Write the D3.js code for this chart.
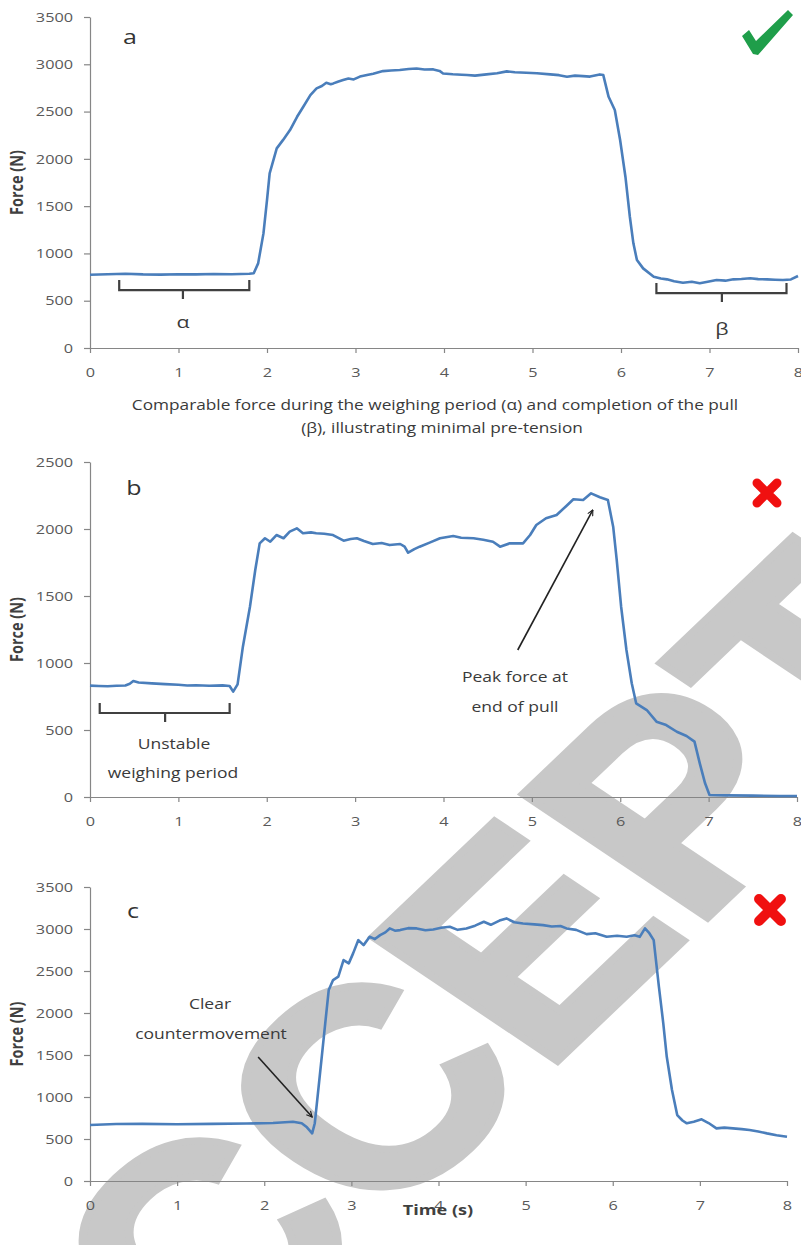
<!DOCTYPE html>
<html>
<head>
<meta charset="utf-8">
<script src="https://cdn.jsdelivr.net/npm/d3@7"></script>
<style>
  body { margin: 0; background: #fff; }
  svg { display: block; }
</style>
</head>
<body>
<div id="chart"></div>
<script>
// ---- data ----
const timeTicks = [0, 1, 2, 3, 4, 5, 6, 7, 8];
const forceTicksA = [0, 500, 1000, 1500, 2000, 2500, 3000, 3500];
const forceTicksB = [0, 500, 1000, 1500, 2000, 2500];
const forceTicksC = [0, 500, 1000, 1500, 2000, 2500, 3000, 3500];

// [time (s), force (N)]
const pullA = [
  [0, 775], [0.2, 780], [0.4, 785], [0.6, 778], [0.8, 776], [1.0, 780], [1.2, 778],
  [1.4, 782], [1.6, 780], [1.8, 785], [1.85, 790], [1.9, 895], [1.96, 1212], [2.0, 1564],
  [2.03, 1846], [2.11, 2111], [2.18, 2198], [2.26, 2304], [2.34, 2445], [2.41, 2551],
  [2.49, 2674], [2.56, 2745], [2.62, 2770], [2.67, 2805], [2.72, 2790], [2.75, 2798],
  [2.8, 2815], [2.86, 2833], [2.92, 2850], [2.98, 2840], [3.05, 2870], [3.13, 2886],
  [3.2, 2900], [3.31, 2928], [3.4, 2935], [3.5, 2939], [3.6, 2950], [3.69, 2956],
  [3.78, 2945], [3.88, 2946], [3.95, 2930], [3.99, 2903], [4.1, 2895], [4.2, 2890],
  [4.26, 2886], [4.35, 2880], [4.48, 2893], [4.6, 2905], [4.71, 2925], [4.8, 2915],
  [4.93, 2910], [5.05, 2905], [5.2, 2893], [5.3, 2885], [5.39, 2868], [5.48, 2880],
  [5.57, 2875], [5.65, 2870], [5.76, 2893], [5.8, 2886], [5.86, 2656], [5.93, 2516],
  [5.99, 2199], [6.05, 1811], [6.1, 1388], [6.14, 1107], [6.18, 930], [6.25, 842],
  [6.37, 754], [6.45, 735], [6.52, 726], [6.6, 705], [6.7, 690], [6.8, 700], [6.89, 684],
  [6.98, 700], [7.08, 719], [7.18, 712], [7.27, 726], [7.36, 730], [7.46, 737],
  [7.55, 728], [7.65, 726], [7.74, 722], [7.83, 719], [7.92, 725], [8.0, 761]
];

const pullB = [
  [0, 831], [0.1, 828], [0.2, 826], [0.3, 830], [0.4, 832], [0.45, 845], [0.49, 866],
  [0.55, 855], [0.7, 848], [0.85, 842], [1.0, 838], [1.1, 832], [1.2, 834], [1.35, 830],
  [1.5, 833], [1.58, 828], [1.62, 786], [1.67, 840], [1.73, 1122], [1.81, 1420],
  [1.87, 1694], [1.92, 1893], [1.98, 1931], [2.04, 1905], [2.11, 1955], [2.19, 1931],
  [2.26, 1980], [2.34, 2005], [2.41, 1968], [2.5, 1975], [2.56, 1968], [2.65, 1965],
  [2.75, 1955], [2.87, 1913], [2.95, 1925], [3.02, 1931], [3.1, 1910], [3.2, 1888],
  [3.3, 1895], [3.39, 1880], [3.51, 1888], [3.56, 1868], [3.6, 1823], [3.67, 1850],
  [3.73, 1868], [3.85, 1900], [3.96, 1931], [4.11, 1948], [4.2, 1935], [4.34, 1931],
  [4.45, 1920], [4.56, 1905], [4.64, 1868], [4.75, 1893], [4.9, 1893], [4.98, 1955],
  [5.05, 2030], [5.16, 2080], [5.28, 2105], [5.39, 2172], [5.47, 2222], [5.58, 2217],
  [5.67, 2266], [5.77, 2237], [5.86, 2217], [5.92, 2017], [5.96, 1769], [6.01, 1420],
  [6.07, 1097], [6.13, 849], [6.18, 699], [6.3, 649], [6.41, 562], [6.52, 537],
  [6.64, 487], [6.75, 455], [6.84, 413], [6.9, 251], [6.96, 102], [7.01, 15],
  [7.2, 12], [7.5, 10], [7.8, 8], [8.0, 8]
];

const pullC = [
  [0, 666], [0.3, 678], [0.6, 680], [1.0, 676], [1.4, 680], [1.8, 684], [2.1, 690],
  [2.33, 706], [2.43, 688], [2.49, 639], [2.55, 567], [2.58, 688], [2.62, 1083],
  [2.66, 1479], [2.7, 1877], [2.74, 2273], [2.79, 2392], [2.85, 2432], [2.91, 2630],
  [2.97, 2591], [3.02, 2710], [3.08, 2868], [3.14, 2808], [3.21, 2907], [3.27, 2880],
  [3.33, 2927], [3.39, 2960], [3.44, 3007], [3.5, 2980], [3.56, 2987], [3.65, 3010],
  [3.75, 3007], [3.85, 2985], [3.94, 2995], [4.03, 3015], [4.13, 3026], [4.22, 2990],
  [4.32, 3007], [4.42, 3040], [4.52, 3086], [4.6, 3050], [4.7, 3100], [4.78, 3126],
  [4.87, 3080], [4.97, 3066], [5.1, 3055], [5.2, 3046], [5.3, 3030], [5.4, 3035],
  [5.47, 3007], [5.58, 2990], [5.7, 2939], [5.8, 2950], [5.93, 2907], [6.05, 2920],
  [6.16, 2907], [6.25, 2925], [6.31, 2907], [6.37, 3007], [6.42, 2950], [6.47, 2868],
  [6.53, 2312], [6.58, 1877], [6.62, 1479], [6.68, 1083], [6.74, 785], [6.8, 720],
  [6.85, 687], [6.93, 706], [7.02, 734], [7.1, 690], [7.19, 627], [7.28, 635],
  [7.38, 627], [7.48, 618], [7.57, 607], [7.67, 590], [7.77, 567], [7.88, 545], [8.0, 527]
];

// ---- drawing ----
const W = 801, H = 1245;
const SX = 1.25; // the source image is stretched sideways
const FONT = "'Open Sans', 'DejaVu Sans', sans-serif";
const lineColor = "#4a7ebb";
const axisColor = "#868686";
const tickText = "#595959";
const noteText = "#3a3a3a";

const svg = d3.select("#chart").append("svg")
  .attr("width", W).attr("height", H)
  .attr("viewBox", `0 0 ${W} ${H}`);

svg.append("rect").attr("width", W).attr("height", H).attr("fill", "#fff");

// watermark, behind everything
svg.append("text")
  .attr("transform", `scale(${SX},1) translate(44,1540) rotate(-50)`)
  .attr("font-family", "'Liberation Sans', Arial, sans-serif")
  .attr("font-weight", "bold")
  .attr("font-size", 280)
  .attr("fill", "#c8c8c8")
  .attr("stroke", "#c8c8c8")
  .attr("stroke-width", 7)
  .text("ACCEPTED");

svg.append("defs").append("marker")
  .attr("id", "arrow")
  .attr("viewBox", "0 0 10 10")
  .attr("refX", 9).attr("refY", 5)
  .attr("markerWidth", 7).attr("markerHeight", 7)
  .attr("markerUnits", "userSpaceOnUse")
  .attr("orient", "auto")
  .append("path")
  .attr("d", "M1,1 L9,5 L1,9")
  .attr("fill", "none")
  .attr("stroke", "#222")
  .attr("stroke-width", 1.6);

function label(g, txt, x, y, opts = {}) {
  return g.append("text")
    .attr("transform", `translate(${x},${y}) scale(${SX},1)`)
    .attr("text-anchor", opts.anchor || "middle")
    .attr("font-family", FONT)
    .attr("font-size", opts.size || 14)
    .attr("font-weight", opts.weight || "normal")
    .attr("fill", opts.fill || noteText)
    .text(txt);
}

function drawPanel(p) {
  const x = d3.scaleLinear().domain([0, 8]).range([p.left, p.right]);
  const y = d3.scaleLinear().domain([0, p.yMax]).range([p.bottom, p.top]);
  const g = svg.append("g");

  const yAxis = g.append("g")
    .attr("transform", `translate(${p.left},0)`)
    .call(d3.axisLeft(y).tickValues(p.yTicks).tickFormat(d3.format("d"))
      .tickSize(6).tickSizeOuter(0));
  yAxis.selectAll("text")
    .attr("x", -17 / SX)
    .attr("transform", `scale(${SX},1)`);

  const xAxis = g.append("g")
    .attr("transform", `translate(0,${p.bottom})`)
    .call(d3.axisBottom(x).tickValues(timeTicks).tickFormat(d3.format("d"))
      .tickSize(5).tickSizeOuter(0));
  xAxis.selectAll("text")
    .attr("y", 20)
    .attr("transform", `scale(${SX},1)`);

  [yAxis, xAxis].forEach(a => {
    a.select(".domain").attr("stroke", axisColor).attr("stroke-width", 1.2);
    a.selectAll(".tick line").attr("stroke", axisColor).attr("stroke-width", 1.2);
    a.selectAll("text")
      .attr("font-family", FONT)
      .attr("font-size", 13)
      .attr("fill", tickText);
  });

  // y title
  g.append("text")
    .attr("transform", `translate(23,${(p.top + p.bottom) / 2}) scale(${SX},1) rotate(-90)`)
    .attr("text-anchor", "middle")
    .attr("font-family", FONT)
    .attr("font-weight", "bold")
    .attr("font-size", 14.5)
    .attr("fill", "#404040")
    .text("Force (N)");

  g.append("path")
    .datum(p.data)
    .attr("fill", "none")
    .attr("stroke", lineColor)
    .attr("stroke-width", 2.6)
    .attr("stroke-linejoin", "round")
    .attr("d", d3.line().x(d => x(d[0])).y(d => y(d[1])));

  label(g, p.tag, p.tagX, p.tagY, { size: 20, fill: "#333" });

  return { g, x, y };
}

function bracket(g, x, y, t0, t1, tc, f) {
  const yy = y(f);
  g.append("path")
    .attr("d", `M${x(t0)},${yy - 10} V${yy} H${x(t1)} V${yy - 10} M${x(tc)},${yy} V${yy + 9}`)
    .attr("fill", "none")
    .attr("stroke", "#404040")
    .attr("stroke-width", 2.2);
}

function arrow(g, x1, y1, x2, y2) {
  g.append("line")
    .attr("x1", x1).attr("y1", y1).attr("x2", x2).attr("y2", y2)
    .attr("stroke", "#222").attr("stroke-width", 1.6)
    .attr("marker-end", "url(#arrow)");
}

function redCross(cx, cy, s) {
  svg.append("path")
    .attr("d", `M${cx - s},${cy - s} L${cx + s},${cy + s} M${cx + s},${cy - s} L${cx - s},${cy + s}`)
    .attr("stroke", "#f01010")
    .attr("stroke-width", s * 0.9)
    .attr("stroke-linecap", "round");
}

// panel a
const a = drawPanel({
  data: pullA, yMax: 3500, yTicks: forceTicksA,
  left: 90, right: 798, top: 17, bottom: 348,
  tag: "a", tagX: 130, tagY: 44
});
bracket(a.g, a.x, a.y, 0.33, 1.8, 1.05, 613);
label(a.g, "α", a.x(1.05), 328, { size: 17 });
bracket(a.g, a.x, a.y, 6.4, 7.87, 7.14, 581);
label(a.g, "β", a.x(7.14), 335, { size: 17 });
label(a.g, "Comparable force during the weighing period (α) and completion of the pull", 435, 410, { size: 13.8 });
label(a.g, "(β), illustrating minimal pre-tension", 442, 433, { size: 13.8 });

// green tick
svg.append("path")
  .attr("d", "M742,36 L749,30 L756,41 L788,10 L793,15 L758,55 L753,54 Z")
  .attr("fill", "#1f9e4a");

// panel b
const b = drawPanel({
  data: pullB, yMax: 2500, yTicks: forceTicksB,
  left: 90, right: 797, top: 462, bottom: 797,
  tag: "b", tagX: 134, tagY: 495
});
bracket(b.g, b.x, b.y, 0.11, 1.58, 0.85, 627);
label(b.g, "Unstable", 174, 749);
label(b.g, "weighing period", 173, 778);
label(b.g, "Peak force at", 515, 682);
label(b.g, "end of pull", 515, 712);
arrow(b.g, b.x(4.84), b.y(1097), b.x(5.69), b.y(2142));
redCross(767, 493, 10);

// panel c
const c = drawPanel({
  data: pullC, yMax: 3500, yTicks: forceTicksC,
  left: 90, right: 787, top: 887, bottom: 1181,
  tag: "c", tagX: 133, tagY: 918
});
label(c.g, "Clear", 210, 1009);
label(c.g, "countermovement", 211, 1039);
arrow(c.g, c.x(1.93), c.y(1476), c.x(2.55), c.y(762));
label(c.g, "Time (s)", 438, 1215, { weight: "bold", size: 14.5, fill: "#404040" });
redCross(770, 910, 11);
</script>
</body>
</html>
